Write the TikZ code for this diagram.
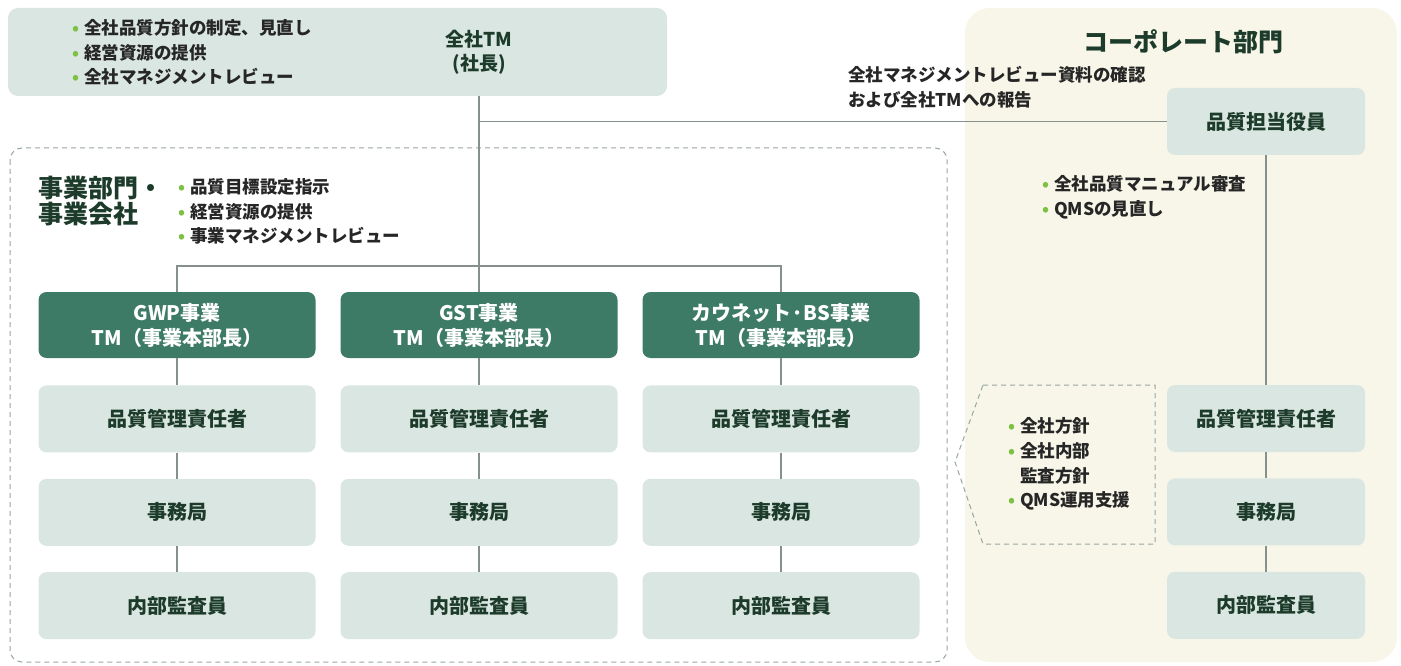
\documentclass[tikz,border=0pt]{standalone}
\usepackage{fontspec}
\setmainfont{Noto Sans CJK JP}
\usetikzlibrary{positioning}
\definecolor{boxfill}{HTML}{DAE6E2}
\definecolor{darkfill}{HTML}{3D7B66}
\definecolor{labelgreen}{HTML}{1D3B2A}
\definecolor{creamfill}{HTML}{F7F6E8}
\definecolor{dotgreen}{HTML}{7DC142}
\definecolor{linegray}{HTML}{86908C}
\definecolor{dashgray}{HTML}{9AA6A2}
\newcommand\bul{\makebox[12pt][l]{\textcolor{dotgreen}{•}}}

\begin{document}
\begin{tikzpicture}[x=1pt,y=-1pt,
      every node/.style={inner sep=0pt},
      lbox/.style={rounded corners=8pt,fill=boxfill,minimum width=277pt,minimum height=67pt,
        text=labelgreen,font=\bfseries\fontsize{20}{24}\selectfont},
      tmbox/.style={lbox,fill=darkfill,minimum height=66pt,text=white,align=center,
        font=\bfseries\fontsize{20}{25}\selectfont},
      rbox/.style={lbox,minimum width=198pt},
      notes/.style={anchor=west,align=left,text=black!85,font=\bfseries\fontsize{17.5}{24.7}\selectfont},
      title/.style={anchor=west,align=left,text=labelgreen,font=\bfseries\fontsize{25}{26}\selectfont},
      conn/.style={draw=linegray,line width=1.1pt},
      dashedline/.style={draw=dashgray,line width=1pt,dash pattern=on 5pt off 4pt}]
  \useasboundingbox (0,0) rectangle (1401,666);
  % panels
  \fill[creamfill,rounded corners=25pt] (965,8) rectangle (1397,662);
  \draw[dashedline,rounded corners=12pt] (10,148) rectangle (947,662);
  \draw[dashedline] (983,385) -- (1155,385) -- (1155,544) -- (983,544) -- (955,462) -- cycle;

  % company TM
  \node[lbox,rounded corners=10pt,minimum width=659pt,minimum height=88pt] (ceo) at (337.5,52) {};
  \node[notes] (ceonotes) at (72,52.5) {\bul 全社品質方針の制定、見直し\\\bul 経営資源の提供\\\bul 全社マネジメントレビュー};
  \node[align=center,text=labelgreen,font=\bfseries\fontsize{19}{24}\selectfont] (ceolabel) at (479,52) {全社TM\\(社長)};

  % business units
  \node[title] (bustitle) at (38,201) {事業部門・\\事業会社};
  \node[notes] (busnotes) at (178,211.5) {\bul 品質目標設定指示\\\bul 経営資源の提供\\\bul 事業マネジメントレビュー};
  \node[tmbox] (gwp) at (177,325) {GWP事業\\TM（事業本部長）};
  \node[tmbox] (gst) at (479,325) {GST事業\\TM（事業本部長）};
  \node[tmbox] (bs) at (781,325) {カウネット·BS事業\\TM（事業本部長）};
  \foreach \u in {gwp,gst,bs}{
    \node[lbox,below=27pt of \u] (\u qm) {品質管理責任者};
    \node[lbox,below=26pt of \u qm] (\u sec) {事務局};
    \node[lbox,below=26pt of \u sec] (\u aud) {内部監査員};
    \draw[conn] (\u) -- (\u qm) -- (\u sec) -- (\u aud);
  }

  % corporate
  \node[anchor=center,text=labelgreen,font=\bfseries\fontsize{25}{26}\selectfont] (corptitle) at (1183,42) {コーポレート部門};
  \node[notes] (review) at (848,87.5) {全社マネジメントレビュー資料の確認\\および全社TMへの報告};
  \node[rbox] (qexec) at (1266,121.5) {品質担当役員};
  \node[notes] (corpnotes) at (1042,197.5) {\bul 全社品質マニュアル審査\\\bul QMSの見直し};
  \node[rbox] (cqm) at (1266,418.5) {品質管理責任者};
  \node[rbox,below=26pt of cqm] (csec) {事務局};
  \node[rbox,below=26pt of csec] (caud) {内部監査員};
  \node[notes] (supnotes) at (1008,464) {\bul 全社方針\\\bul 全社内部\\\hspace*{12pt}監査方針\\\bul QMS運用支援};
  \draw[conn] (qexec) -- (cqm) -- (csec) -- (caud);

  % connectors
  \coordinate (split) at (479,266);
  \draw[conn] (ceo.south -| gst.north) -- (gst.north);
  \draw[conn] (gwp.north) -- (gwp.north |- split) -- (bs.north |- split) -- (bs.north);
  \draw[conn] (qexec.west) -- (qexec.west -| gst.north);
\end{tikzpicture}
\end{document}
